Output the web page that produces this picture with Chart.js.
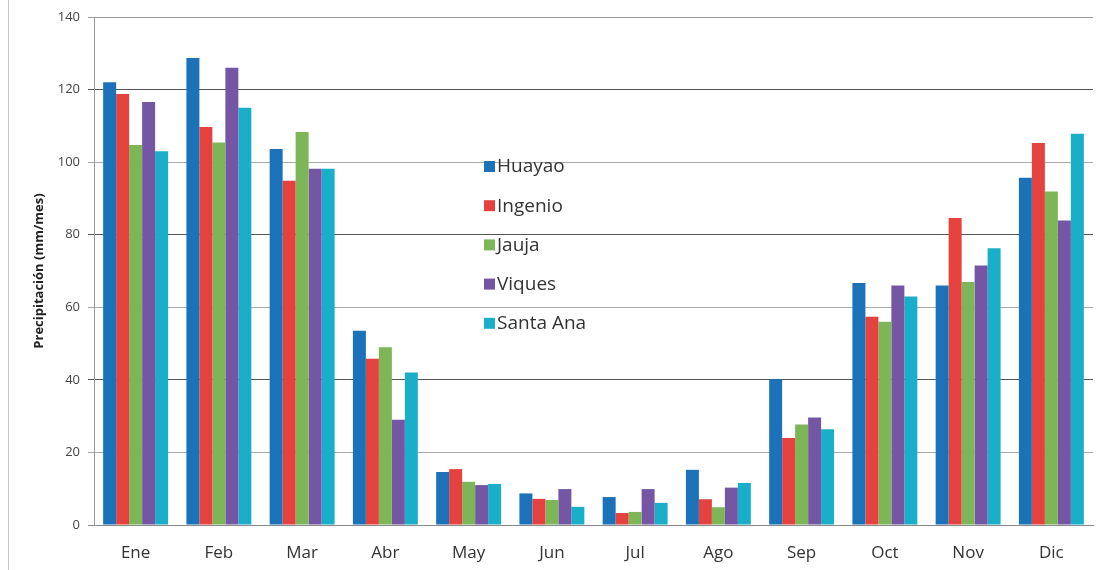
<!DOCTYPE html>
<html>
<head>
<meta charset="utf-8">
<script src="https://cdn.jsdelivr.net/npm/chart.js@4"></script>
<style>
  html, body { margin: 0; padding: 0; background: #fff; }
  #wrap { width: 1108px; height: 570px; position: relative; }
</style>
</head>
<body>
<div id="wrap"><canvas id="barChart" width="1108" height="570"></canvas></div>
<script>
const months = ['Ene', 'Feb', 'Mar', 'Abr', 'May', 'Jun', 'Jul', 'Ago', 'Sep', 'Oct', 'Nov', 'Dic'];
const huayao   = [122, 128.7, 103.6, 53.5, 14.6, 8.7, 7.7, 15.2, 40.2, 66.7, 66, 95.7];
const ingenio  = [118.8, 109.7, 94.9, 45.8, 15.4, 7.2, 3.3, 7.1, 24, 57.4, 84.6, 105.3];
const jauja    = [104.7, 105.4, 108.3, 49, 11.9, 6.9, 3.6, 4.9, 27.7, 56, 67, 91.9];
const viques   = [116.6, 126, 98.2, 29, 11, 9.9, 9.9, 10.3, 29.6, 66, 71.5, 83.9];
const santaAna = [103, 115, 98.2, 42, 11.3, 5, 6.1, 11.6, 26.4, 63, 76.3, 107.8];
const yTicks = [0, 20, 40, 60, 80, 100, 120, 140];

const seriesNames = ['Huayao', 'Ingenio', 'Jauja', 'Viques', 'Santa Ana'];
const seriesData = [huayao, ingenio, jauja, viques, santaAna];
const colors = ['#1b72b8', '#e5423f', '#7db657', '#7556a4', '#19afc9'];

const font = '"Open Sans", Lato, sans-serif';

// legend drawn inside the plot, over the grid lines
const innerLegend = {
    id: 'innerLegend',
    afterDatasetsDraw(chart) {
        const ctx = chart.ctx;
        ctx.save();
        ctx.font = '19px ' + font;
        ctx.textBaseline = 'middle';
        chart.data.datasets.forEach((ds, i) => {
            const y = 166 + i * 39.2;
            ctx.fillStyle = ds.backgroundColor;
            ctx.fillRect(484, y - 5, 11, 11);
            ctx.fillStyle = '#333';
            ctx.fillText(ds.label, 497, y + 1);
        });
        ctx.restore();
    }
};

// thin frame line on the left edge
const frameLine = {
    id: 'frameLine',
    beforeDraw(chart) {
        const ctx = chart.ctx;
        ctx.save();
        ctx.strokeStyle = '#c8c8c8';
        ctx.lineWidth = 1;
        ctx.beginPath();
        ctx.moveTo(8.5, 0);
        ctx.lineTo(8.5, 570);
        ctx.stroke();
        ctx.restore();
    }
};

const ctx = document.getElementById('barChart').getContext('2d');
new Chart(ctx, {
    type: 'bar',
    data: {
        labels: months,
        datasets: seriesNames.map((name, i) => ({
            label: name,
            data: seriesData[i],
            backgroundColor: colors[i],
            borderWidth: 0,
            barPercentage: 1,
            categoryPercentage: 0.78
        }))
    },
    options: {
        responsive: false,
        animation: false,
        layout: { padding: { top: 17, right: 15, left: 31, bottom: 0 } },
        plugins: {
            legend: { display: false },
            tooltip: { enabled: false }
        },
        scales: {
            x: {
                grid: { display: false },
                border: { display: true, color: '#888', width: 1 },
                ticks: {
                    color: '#333',
                    padding: 10,
                    font: { family: font, size: 17 }
                },
                afterFit: scale => { scale.height = 45; }
            },
            y: {
                min: 0,
                max: 140,
                afterBuildTicks: scale => { scale.ticks = yTicks.map(v => ({ value: v })); },
                grid: {
                    color: c => {
                        const v = c.tick ? c.tick.value : 0;
                        if (v === 0) return '#888';
                        if (v === 140) return '#999';
                        return (v / 20) % 2 === 0 ? '#555' : '#aaa';
                    },
                    lineWidth: 1,
                    tickLength: 6,
                    drawTicks: true
                },
                border: { display: true, color: '#999', width: 1 },
                ticks: {
                    color: '#444',
                    padding: 8,
                    font: { family: font, size: 13 }
                },
                title: {
                    display: true,
                    text: 'Precipitación (mm/mes)',
                    color: '#222',
                    padding: { top: 0, bottom: 0 },
                    font: { family: font, size: 13, weight: 'bold' }
                },
                afterFit: scale => { scale.width = 63; }
            }
        }
    },
    plugins: [frameLine, innerLegend]
});
</script>
</body>
</html>
